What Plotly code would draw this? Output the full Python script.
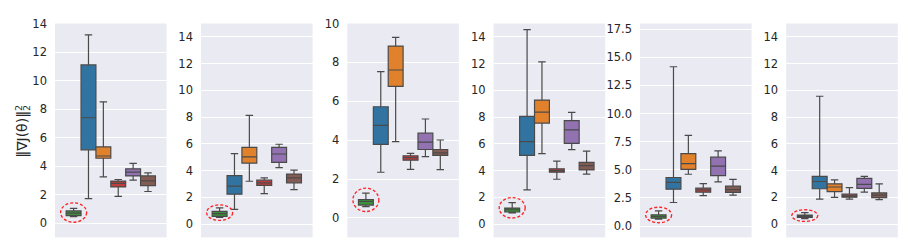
import plotly.graph_objects as go

# Box statistics per method, one tuple per panel: (lower whisker, q1, median, q3, upper whisker)
green = [(0.46, 0.52, 0.70, 0.86, 1.03), (0.49, 0.58, 0.78, 0.95, 1.21), (0.58, 0.66, 0.85, 0.95, 1.28),
         (0.83, 0.90, 1.07, 1.19, 1.60), (0.63, 0.72, 0.86, 1.01, 1.35), (0.41, 0.49, 0.58, 0.66, 0.85)]
blue = [(1.72, 5.14, 7.39, 11.1, 13.2), (1.09, 2.23, 2.84, 3.62, 5.27), (2.35, 3.78, 4.76, 5.72, 7.53),
        (2.55, 5.14, 6.16, 8.06, 14.54), (2.10, 3.28, 3.89, 4.32, 14.16), (1.87, 2.64, 3.18, 3.57, 9.56)]
orange = [(3.24, 4.55, 4.71, 5.35, 8.5), (3.20, 4.56, 5.02, 5.73, 8.13), (3.93, 6.77, 7.61, 8.84, 9.29),
          (5.27, 7.55, 8.37, 9.27, 12.13), (4.61, 5.04, 5.56, 6.45, 8.06), (1.99, 2.43, 2.77, 3.01, 3.30)]
red = [(1.88, 2.54, 2.79, 2.95, 3.06), (2.28, 2.89, 3.08, 3.28, 3.45), (2.50, 2.97, 3.10, 3.20, 3.32),
       (3.35, 3.88, 4.00, 4.13, 4.71), (2.71, 3.02, 3.22, 3.37, 3.77), (1.87, 2.01, 2.11, 2.23, 2.72)]
purple = [(3.01, 3.31, 3.58, 3.81, 4.19), (4.22, 4.61, 5.24, 5.73, 5.97), (3.15, 3.52, 3.90, 4.36, 5.09),
          (5.56, 6.04, 7.04, 7.74, 8.35), (3.94, 4.49, 5.33, 6.13, 6.68), (2.38, 2.67, 2.96, 3.42, 3.57)]
brown = [(2.22, 2.63, 2.97, 3.31, 3.53), (2.57, 3.08, 3.45, 3.74, 4.03), (2.49, 3.22, 3.35, 3.52, 4.01),
         (3.74, 4.05, 4.37, 4.61, 5.46), (2.75, 3.00, 3.25, 3.55, 4.15), (1.82, 1.97, 2.16, 2.33, 3.01)]

y_ranges = [(-1, 14), (-1, 15), (-1, 10), (-1, 15), (-1, 18), (-1, 15)]
y_dticks = [2, 2, 2, 2, 2.5, 2]
y_tickfmt = ["d", "d", "d", "d", ".1f", "d"]

series = [green, blue, orange, red, purple, brown]
colors = ["#3a923a", "#3274a1", "#e1812c", "#c03d3e", "#9372b2", "#845b53"]
edge = "#4a4a4a"

W, H = 911, 251
panel_left = [55, 201, 347.3, 493.6, 640, 786.2]
panel_w = 111.6
top_px, bot_px = 17, 237
ellipse_h_px = [20, 16, 24, 21, 16, 12]
ellipse_w_px = 26

fig = go.Figure()
n = len(series)
bw = 0.8 / n
positions = [-0.4 + (i + 0.5) * bw for i in range(n)]

layout = {}
shapes = []
for k in range(6):
    ax = "" if k == 0 else str(k + 1)
    for i, s in enumerate(series):
        lo, q1, med, q3, hi = s[k]
        fig.add_trace(go.Box(
            x=[positions[i]], q1=[q1], median=[med], q3=[q3], lowerfence=[lo], upperfence=[hi],
            width=bw, whiskerwidth=0.5, fillcolor=colors[i], boxpoints=False,
            line=dict(color=edge, width=1.2), orientation="v",
            xaxis="x" + ax, yaxis="y" + ax, showlegend=False, hoverinfo="skip"))
    l = panel_left[k]
    layout["xaxis" + ax] = dict(domain=[l / W, (l + panel_w) / W], range=[-0.5, 0.5],
                                showticklabels=False, showgrid=False, zeroline=False,
                                anchor="y" + ax, fixedrange=True)
    r0, r1 = y_ranges[k]
    layout["yaxis" + ax] = dict(domain=[1 - bot_px / H, 1 - top_px / H], range=[r0, r1],
                                dtick=y_dticks[k], tick0=0, tickformat=y_tickfmt[k],
                                showgrid=True, gridcolor="white", gridwidth=1, zeroline=False,
                                anchor="x" + ax, ticks="", ticklabelstandoff=7, fixedrange=True,
                                tickfont=dict(family="DejaVu Sans", size=11.5, color="#262626"))
    # dashed ellipse around the first (green) box
    lo, q1, med, q3, hi = green[k]
    cy = (lo + hi) / 2
    unit_px = (bot_px - top_px) / (r1 - r0)
    hh = ellipse_h_px[k] / unit_px / 2
    hw = ellipse_w_px / panel_w / 2
    shapes.append(dict(type="circle", xref="x" + ax, yref="y" + ax,
                       x0=positions[0] - hw, x1=positions[0] + hw, y0=cy - hh, y1=cy + hh,
                       line=dict(color="#ff2020", width=1.3, dash="3px,2px")))

annotations = [
    dict(text="‖∇J(θ)‖", x=22.5 / W, y=1 - 131 / H, xref="paper", yref="paper", showarrow=False,
         textangle=-90, xanchor="center", yanchor="middle",
         font=dict(family="DejaVu Sans", size=14, color="#262626")),
    dict(text="2", x=18 / W, y=1 - 104 / H, xref="paper", yref="paper", showarrow=False,
         textangle=-90, xanchor="center", yanchor="middle",
         font=dict(family="DejaVu Sans", size=9.5, color="#262626")),
    dict(text="2", x=26 / W, y=1 - 104 / H, xref="paper", yref="paper", showarrow=False,
         textangle=-90, xanchor="center", yanchor="middle",
         font=dict(family="DejaVu Sans", size=9.5, color="#262626")),
]

fig.update_layout(width=W, height=H, margin=dict(l=0, r=0, t=0, b=0),
                  paper_bgcolor="white", plot_bgcolor="#eaeaf2", boxmode="overlay",
                  shapes=shapes, annotations=annotations, **layout)
fig.write_html("out.html", config={"displayModeBar": False},
               post_script="document.body.style.margin='0';document.body.style.overflow='hidden';")
